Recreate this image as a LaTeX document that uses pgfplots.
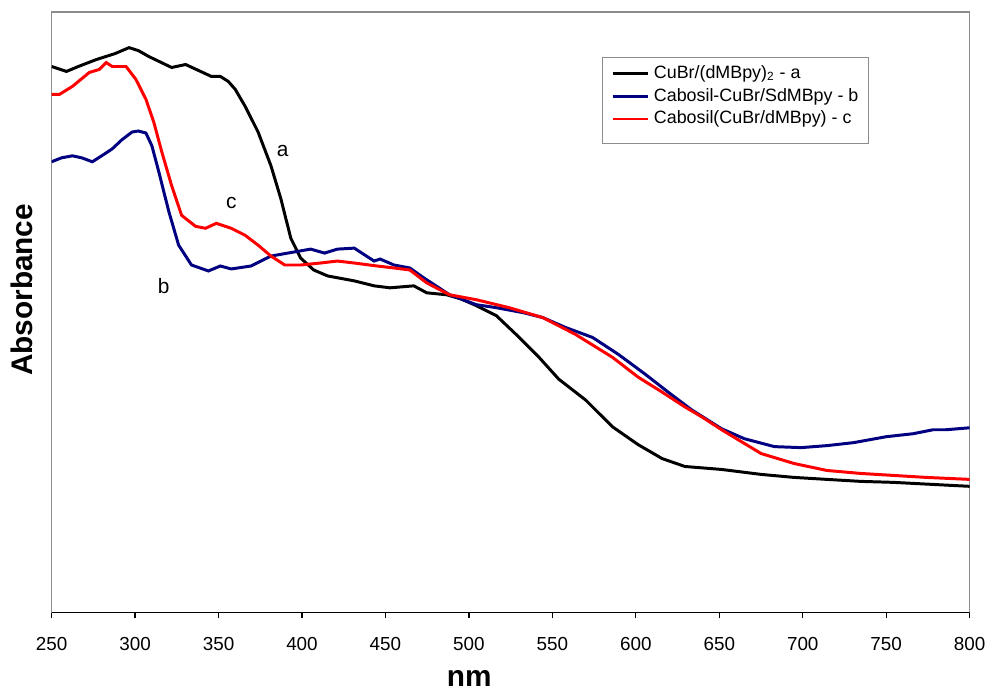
\documentclass[border=0pt]{standalone}
\usepackage{pgfplots}
\pgfplotsset{compat=1.18}
\usepackage{fontspec}
\setmainfont{Liberation Sans}
\usetikzlibrary{calc}
\definecolor{Navy}{HTML}{000080}
\definecolor{Frame}{HTML}{8C8C8C}

\begin{document}
\begin{tikzpicture}
\begin{axis}[
  scale only axis,
  width=462.5pt,height=302.5pt,
  xmin=250,xmax=800,ymin=0,ymax=605,
  xtick={250,300,...,800},ytick=\empty,
  xtick pos=lower,tick align=outside,major tick length=3pt,
  tick style={black,line width=0.6pt},
  axis line style={Frame,line width=0.6pt},
  tick label style={font=\fontsize{9.5}{11}\selectfont},
  xticklabel style={yshift=-6pt},
  /pgf/number format/assume math mode=true,
  xlabel={\textbf{nm}},
  ylabel={\textbf{Absorbance}},
  label style={font=\fontsize{15}{18}\selectfont},
  xlabel style={at={(axis description cs:0.455,0)},anchor=center,yshift=-33.5pt},
  ylabel style={at={(axis description cs:0,0.537)},anchor=center,rotate=0,yshift=14.75pt},
  legend style={draw=none,fill=none,font=\fontsize{9}{11}\selectfont,
    at={(rel axis cs:0.607,0.921)},anchor=north west,
    row sep=-0.6pt,inner sep=1pt},
  legend cell align=left,
  legend image code/.code={\draw[#1] (0pt,0pt) -- (18pt,0pt);},
]
\addplot[black,line width=1.5pt] coordinates {
  (250,550)(258.9,545)(266,550)(276.8,557)(288,563)(296.4,569)(302,566)(308.3,560)
  (321.9,549)(330.3,552)(338,546)(345.7,540)(351.1,540)(355.8,535)(360,527)(365.9,510)
  (373.7,484)(381.4,450)(387.3,417)(393.3,377)(399.2,357)(407,345)(415.3,339)
  (431.3,334)(443.2,329)(452.7,327)(467.0,329)(474.7,322)(486.6,320)(495,316)
  (504.5,309)(516.4,299)(528.3,280)(542.0,257)(553.8,235)(569.9,214)(586.0,187)
  (601.4,169)(615.7,155)(629.4,147)(651.4,144)(675.1,139)(694.8,136)(714.4,134)
  (734.6,132)(754.2,131)(777,129)(800,127)};
\addlegendentry{CuBr/(dMBpy)\textsubscript{2} - a}
\addplot[Navy,line width=1.5pt] coordinates {
  (250,454)(256,458)(262.5,460)(268,458)(274.4,454)(280,460)(286.3,467)(292,476)
  (298.2,484)(302,485)(306.5,483)(310.1,470)(314.2,444)(320.2,404)(326.1,370)
  (333.8,350)(343.9,344)(351.1,349)(357.6,346)(369.5,349)(381.4,359)(391.5,362)
  (405.2,366)(413.5,362)(421.2,366)(431.3,367)(443.2,354)(446.8,356)(455.1,350)
  (464.6,347)(473.0,337)(488.4,320)(504.5,310)(516.4,307)(532.4,302)(544.3,297)
  (558.0,287)(574.1,277)(589.5,260)(605.6,240)(619.3,222)(633.5,204)(651.4,185)
  (665,175)(683.0,167)(699.0,166)(714.4,168)(730.4,171)(750.0,177)(766.1,180)
  (778.0,184)(785.7,184)(800,186)};
\addlegendentry{Cabosil-CuBr/SdMBpy - b}
\addplot[red,line width=1.5pt] coordinates {
  (250,522)(254.8,522)(262.5,530)(272.6,544)(278.5,547)(282.7,554)(286.3,550)
  (294.6,550)(300.5,537)(306.5,517)(311.2,494)(316.0,464)(321.9,430)(327.9,400)
  (336.2,389)(342.2,387)(348.7,392)(357.6,387)(365.9,380)(373.7,370)(381.4,359)
  (389.7,350)(399.2,350)(411.1,352)(421.2,354)(431.3,352)(445.0,349)(455.1,347)
  (464.6,345)(474.7,332)(488.4,320)(504.5,315)(524.1,307)(544.3,297)(563.9,280)
  (586.0,257)(601.4,237)(615.7,222)(629.4,207)(639.5,197)(651.4,184)(675.1,160)
  (694.8,150)(714.4,143)(734.6,140)(754.2,138)(773.8,136)(800,134)};
\addlegendentry{Cabosil(CuBr/dMBpy) - c}
\draw[black,line width=0.6pt] (rel axis cs:0,0) -- (rel axis cs:1,0);
\draw[Frame,line width=0.6pt] (rel axis cs:0.6,0.924) rectangle (rel axis cs:0.8897,0.7802);
\node[font=\fontsize{10.5}{12}\selectfont] at (axis cs:388.5,465) {a};
\node[font=\fontsize{10.5}{12}\selectfont] at (axis cs:357.6,412) {c};
\node[font=\fontsize{10.5}{12}\selectfont] at (axis cs:317.2,329) {b};
\end{axis}
\path[use as bounding box] ($(current axis.south west)+(-26pt,-36.5pt)$) rectangle ($(current axis.north east)+(7.5pt,6pt)$);
\end{tikzpicture}
\end{document}
